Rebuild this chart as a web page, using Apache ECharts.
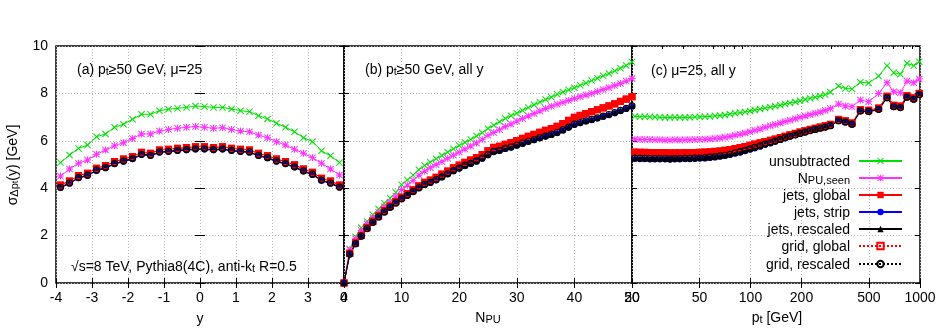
<!DOCTYPE html>
<html>
<head>
<meta charset="utf-8">
<script src="https://cdn.jsdelivr.net/npm/echarts@6/dist/echarts.min.js"></script>
<style>
  html, body { margin: 0; padding: 0; background: #fff; }
  #chart { width: 939px; height: 329px; }
</style>
</head>
<body>
<div id="chart"></div>
<script>
// ------------------------------------------------------------
// Data
// ------------------------------------------------------------

var seriesNames = ["unsubtracted", "NPU,seen", "jets, global", "jets, strip", "jets, rescaled", "grid, global", "grid, rescaled"];

// (a) sigma vs rapidity
var rapidity = [-3.875, -3.625, -3.375, -3.125, -2.875, -2.625, -2.375, -2.125, -1.875, -1.625, -1.375, -1.125, -0.875, -0.625, -0.375, -0.125,
  0.125, 0.375, 0.625, 0.875, 1.125, 1.375, 1.625, 1.875, 2.125, 2.375, 2.625, 2.875, 3.125, 3.375, 3.625, 3.875];
var rapUnsub = [5.08, 5.40, 5.68, 5.82, 6.17, 6.29, 6.57, 6.70, 6.91, 7.12, 7.12, 7.27, 7.33, 7.37, 7.41, 7.47,
  7.44, 7.41, 7.41, 7.34, 7.27, 7.23, 7.06, 6.92, 6.74, 6.57, 6.38, 6.13, 5.96, 5.58, 5.37, 5.08];
var rapNpu = [4.51, 4.81, 5.05, 5.19, 5.43, 5.61, 5.79, 5.92, 6.10, 6.29, 6.29, 6.41, 6.48, 6.53, 6.57, 6.60,
  6.57, 6.53, 6.55, 6.48, 6.41, 6.38, 6.24, 6.13, 5.96, 5.82, 5.64, 5.47, 5.29, 5.05, 4.81, 4.56];
var rapGlobal = [4.13, 4.30, 4.53, 4.63, 4.84, 4.95, 5.12, 5.23, 5.33, 5.51, 5.47, 5.61, 5.64, 5.68, 5.71, 5.75,
  5.75, 5.71, 5.75, 5.68, 5.64, 5.61, 5.47, 5.37, 5.23, 5.12, 4.98, 4.81, 4.67, 4.42, 4.30, 4.13];
var rapStrip = [4.01, 4.19, 4.42, 4.52, 4.73, 4.84, 5.01, 5.12, 5.22, 5.40, 5.36, 5.50, 5.53, 5.57, 5.60, 5.63,
  5.63, 5.60, 5.63, 5.57, 5.53, 5.50, 5.36, 5.26, 5.12, 5.01, 4.87, 4.70, 4.56, 4.31, 4.19, 4.02];
var rapRescaled = [4.04, 4.22, 4.45, 4.55, 4.76, 4.87, 5.04, 5.15, 5.25, 5.43, 5.39, 5.53, 5.56, 5.60, 5.63, 5.66,
  5.66, 5.63, 5.66, 5.60, 5.56, 5.53, 5.39, 5.29, 5.15, 5.04, 4.90, 4.73, 4.59, 4.34, 4.22, 4.05];

// (b) sigma vs number of pileup vertices
var npu = [0, 1, 2, 3, 4, 5, 6, 7, 8, 9, 10, 11, 12, 13, 14, 15, 16, 17, 18, 19, 20, 21, 22, 23, 24, 25,
  26, 27, 28, 29, 30, 31, 32, 33, 34, 35, 36, 37, 38, 39, 40, 41, 42, 43, 44, 45, 46, 47, 48, 49, 50];
var npuUnsub = [0, 1.43, 1.95, 2.33, 2.60, 2.88, 3.12, 3.37, 3.58, 3.82, 4.15, 4.35, 4.55, 4.78, 4.96, 5.10, 5.24, 5.38, 5.52, 5.66, 5.80,
  5.93, 6.06, 6.20, 6.34, 6.52, 6.66, 6.80, 6.94, 7.06, 7.16, 7.28, 7.40, 7.52, 7.63, 7.74, 7.84, 7.96, 8.06, 8.15, 8.24,
  8.34, 8.44, 8.54, 8.64, 8.74, 8.84, 8.95, 9.06, 9.18, 9.32];
var npuNpu = [0, 1.40, 1.87, 2.22, 2.50, 2.76, 2.99, 3.22, 3.42, 3.66, 3.95, 4.13, 4.33, 4.55, 4.72, 4.86, 4.99, 5.12, 5.26, 5.39, 5.52,
  5.65, 5.78, 5.91, 6.05, 6.23, 6.35, 6.47, 6.60, 6.71, 6.83, 6.94, 7.05, 7.15, 7.26, 7.36, 7.46, 7.54, 7.62, 7.70, 7.78,
  7.86, 7.93, 8.00, 8.08, 8.16, 8.24, 8.33, 8.42, 8.52, 8.63];
var npuGlobal = [0, 1.25, 1.69, 2.01, 2.34, 2.60, 2.83, 3.05, 3.25, 3.44, 3.62, 3.77, 3.93, 4.10, 4.25, 4.34, 4.46, 4.59, 4.72, 4.86, 4.97,
  5.09, 5.19, 5.29, 5.42, 5.58, 5.72, 5.77, 5.85, 5.92, 6.01, 6.10, 6.19, 6.27, 6.36, 6.44, 6.52, 6.61, 6.73, 6.86, 6.99,
  7.07, 7.15, 7.23, 7.31, 7.39, 7.47, 7.56, 7.66, 7.76, 7.86];
var npuStrip = [0, 1.19, 1.63, 1.95, 2.27, 2.53, 2.76, 2.97, 3.17, 3.35, 3.53, 3.67, 3.83, 3.99, 4.13, 4.22, 4.33, 4.45, 4.58, 4.71, 4.82,
  4.93, 5.02, 5.12, 5.24, 5.39, 5.52, 5.57, 5.65, 5.71, 5.79, 5.87, 5.95, 6.02, 6.10, 6.17, 6.24, 6.32, 6.43, 6.55, 6.67,
  6.74, 6.81, 6.87, 6.94, 7.01, 7.08, 7.16, 7.25, 7.34, 7.44];
var npuRescaled = [0, 1.22, 1.66, 1.98, 2.30, 2.56, 2.79, 3.00, 3.20, 3.38, 3.56, 3.70, 3.86, 4.02, 4.16, 4.25, 4.36, 4.48, 4.61, 4.74, 4.85,
  4.96, 5.05, 5.15, 5.27, 5.42, 5.55, 5.60, 5.68, 5.74, 5.82, 5.90, 5.98, 6.05, 6.13, 6.20, 6.27, 6.35, 6.46, 6.58, 6.70,
  6.77, 6.84, 6.90, 6.97, 7.04, 7.11, 7.19, 7.28, 7.37, 7.47];

// (c) sigma vs jet pt [GeV]
var jetPt = [20.8, 22.3, 23.8, 25.5, 27.3, 29.2, 31.3, 33.5, 35.8, 38.3, 41.1, 43.9, 47, 50.3, 53.9, 57.7, 61.7, 66.1, 70.7, 75.7,
  81.1, 86.8, 92.9, 99.4, 106, 114, 122, 131, 140, 150, 160, 171, 184, 196, 210, 225, 241, 258, 276, 296,
  331, 363, 397, 445, 498, 570, 639, 700, 766, 838, 918, 990];
var ptUnsub = [7.03, 7.02, 7.02, 7.01, 7.00, 6.99, 6.98, 6.98, 6.99, 6.98, 6.98, 6.99, 7.00, 7.01, 7.02, 7.03, 7.05, 7.07, 7.09, 7.12,
  7.16, 7.19, 7.22, 7.26, 7.30, 7.34, 7.38, 7.42, 7.46, 7.50, 7.55, 7.60, 7.64, 7.69, 7.74, 7.79, 7.84, 7.89, 7.95, 8.06,
  8.31, 8.21, 8.19, 8.47, 8.44, 8.73, 9.17, 8.87, 8.81, 9.27, 9.17, 9.34];
var ptNpu = [6.07, 6.06, 6.05, 6.05, 6.04, 6.04, 6.03, 6.03, 6.04, 6.03, 6.04, 6.04, 6.05, 6.06, 6.07, 6.08, 6.10, 6.12, 6.15, 6.18,
  6.24, 6.28, 6.33, 6.38, 6.44, 6.50, 6.57, 6.63, 6.69, 6.75, 6.81, 6.87, 6.93, 6.99, 7.05, 7.10, 7.16, 7.22, 7.28, 7.36,
  7.55, 7.47, 7.44, 7.72, 7.65, 8.00, 8.45, 8.07, 8.03, 8.52, 8.45, 8.61];
var ptGlobal = [5.52, 5.51, 5.51, 5.50, 5.50, 5.50, 5.50, 5.49, 5.49, 5.49, 5.50, 5.50, 5.50, 5.51, 5.52, 5.53, 5.55, 5.57, 5.60, 5.63,
  5.67, 5.71, 5.76, 5.81, 5.86, 5.91, 5.97, 6.02, 6.07, 6.13, 6.19, 6.25, 6.31, 6.37, 6.42, 6.48, 6.53, 6.58, 6.63, 6.69,
  6.90, 6.84, 6.75, 7.31, 7.29, 7.38, 7.88, 7.50, 7.46, 7.90, 7.81, 8.00];
var ptStrip = [5.23, 5.22, 5.22, 5.21, 5.21, 5.21, 5.21, 5.20, 5.21, 5.21, 5.22, 5.22, 5.23, 5.24, 5.25, 5.27, 5.30, 5.33, 5.36, 5.40,
  5.45, 5.50, 5.56, 5.62, 5.68, 5.75, 5.82, 5.89, 5.96, 6.03, 6.10, 6.17, 6.23, 6.29, 6.35, 6.41, 6.46, 6.51, 6.56, 6.62,
  6.83, 6.77, 6.68, 7.24, 7.22, 7.31, 7.80, 7.42, 7.38, 7.82, 7.73, 7.93];
var ptRescaled = [5.27, 5.26, 5.26, 5.25, 5.25, 5.25, 5.25, 5.24, 5.25, 5.25, 5.26, 5.26, 5.27, 5.28, 5.29, 5.31, 5.33, 5.36, 5.39, 5.43,
  5.49, 5.54, 5.60, 5.66, 5.72, 5.79, 5.86, 5.92, 5.99, 6.06, 6.13, 6.19, 6.25, 6.31, 6.37, 6.43, 6.48, 6.53, 6.58, 6.64,
  6.85, 6.79, 6.70, 7.26, 7.24, 7.33, 7.82, 7.44, 7.40, 7.84, 7.75, 7.95];

// tick labels
var ptMajorTicks = [20, 50, 100, 200, 500, 1000];
var ptMinorTicks = [30, 40, 60, 70, 80, 90, 300, 400, 600, 700, 800, 900];

// ------------------------------------------------------------
// Chart
// ------------------------------------------------------------

var chart = echarts.init(document.getElementById("chart"));
var FONT = "'Liberation Sans', Arial, Helvetica, sans-serif";

// marker shapes (gnuplot-like)
var crossPath = "path://M0,1L1,0L5,4L9,0L10,1L6,5L10,9L9,10L5,6L1,10L0,9L4,5Z";
var starPath = "path://M0,1L1,0L5,4L9,0L10,1L6,5L10,9L9,10L5,6L1,10L0,9L4,5Z" +
  "M4.3,0L5.7,0L5.7,4.3L10,4.3L10,5.7L5.7,5.7L5.7,10L4.3,10L4.3,5.7L0,5.7L0,4.3L4.3,4.3Z";

// open markers get a see-through fill, like gnuplot
var styles = [
  { color: "#00e000", symbol: crossPath, size: 7, type: "solid", open: false },
  { color: "#ff33ff", symbol: starPath, size: 7, type: "solid", open: false },
  { color: "#ff0000", symbol: "rect", size: 7, type: "solid", open: false },
  { color: "#0000ff", symbol: "circle", size: 6, type: "solid", open: false },
  { color: "#000000", symbol: "triangle", size: 5, type: "solid", open: false },
  { color: "#ff0000", symbol: "rect", size: 6, type: [2, 2], open: true },
  { color: "#000000", symbol: "circle", size: 6, type: [2, 2], open: true }
];

var panels = [
  { x: rapidity, sets: [rapUnsub, rapNpu, rapGlobal, rapStrip, rapRescaled, rapGlobal, rapRescaled] },
  { x: npu, sets: [npuUnsub, npuNpu, npuGlobal, npuStrip, npuRescaled, npuGlobal, npuRescaled] },
  { x: jetPt, sets: [ptUnsub, ptNpu, ptGlobal, ptStrip, ptRescaled, ptGlobal, ptRescaled] }
];

var gridLeft = [56, 344, 632];
var grids = gridLeft.map(function (l) {
  return { left: l, top: 46, width: 288, height: 237, show: true, borderColor: "#000", borderWidth: 1.5 };
});

var splitDotted = { show: true, lineStyle: { color: "#b4b4b4", type: [1, 2], width: 1 } };
var tickLabel = { color: "#000", fontSize: 14, fontFamily: FONT, margin: 8 };

function mirrorX(base) {
  return Object.assign({}, base, {
    position: "top",
    axisLabel: { show: false },
    splitLine: { show: false }
  });
}

var xAxisA = {
  gridIndex: 0, type: "value", min: -4, max: 4, interval: 1,
  axisLine: { show: false }, axisTick: { inside: true, length: 5, lineStyle: { color: "#000" } },
  axisLabel: Object.assign({ showMinLabel: true, showMaxLabel: true }, tickLabel),
  splitLine: splitDotted
};
var xAxisB = {
  gridIndex: 1, type: "value", min: 0, max: 50, interval: 10,
  axisLine: { show: false }, axisTick: { inside: true, length: 5, lineStyle: { color: "#000" } },
  axisLabel: Object.assign({ showMinLabel: true, showMaxLabel: true }, tickLabel),
  splitLine: splitDotted
};
var xAxisC = {
  gridIndex: 2, type: "log", logBase: 10, min: 20, max: 1000,
  axisLine: { show: false },
  axisTick: { inside: true, length: 5, customValues: ptMajorTicks, lineStyle: { color: "#000" } },
  axisLabel: Object.assign({
    customValues: ptMajorTicks,
    formatter: function (v) { return String(Math.round(v)); }
  }, tickLabel),
  splitLine: splitDotted
};
var xAxisCMinor = {
  gridIndex: 2, type: "log", logBase: 10, min: 20, max: 1000,
  axisLine: { show: false },
  axisTick: { inside: true, length: 3, customValues: ptMinorTicks, lineStyle: { color: "#000" } },
  axisLabel: { show: false }, splitLine: { show: false }
};

var xAxes = [xAxisA, xAxisB, xAxisC, mirrorX(xAxisA), mirrorX(xAxisB), mirrorX(xAxisC),
  xAxisCMinor, mirrorX(xAxisCMinor)];

var yAxes = [];
[0, 1, 2].forEach(function (g) {
  yAxes.push({
    gridIndex: g, type: "value", min: 0, max: 10, interval: 2, position: "left",
    axisLine: { show: false },
    axisTick: { inside: true, length: 5, lineStyle: { color: "#000" } },
    axisLabel: Object.assign({ show: g === 0 }, tickLabel),
    splitLine: splitDotted
  });
  yAxes.push({
    gridIndex: g, type: "value", min: 0, max: 10, interval: 2, position: "right",
    axisLine: { show: false },
    axisTick: { inside: true, length: 5, lineStyle: { color: "#000" } },
    axisLabel: { show: false }, splitLine: { show: false }
  });
});

var series = [];
panels.forEach(function (p, g) {
  p.sets.forEach(function (vals, k) {
    var st = styles[k];
    series.push({
      name: seriesNames[k],
      type: "line",
      xAxisIndex: g,
      yAxisIndex: g * 2,
      data: p.x.map(function (x, i) { return [x, vals[i]]; }),
      symbol: st.symbol,
      symbolSize: st.size,
      showAllSymbol: true,
      color: st.color,
      lineStyle: { color: st.color, width: 1, type: st.type },
      itemStyle: st.open
        ? { color: "rgba(255,255,255,0)", borderColor: st.color, borderWidth: 1.2 }
        : { color: st.color, borderWidth: 0 },
      emphasis: { disabled: true },
      animation: false
    });
  });
});

// one legend per entry so that the icons line up at the right
var legendCenters = [163, 180, 197, 214, 231, 248, 266];
var rich = {
  n: { fontSize: 14, fontFamily: FONT, color: "#000", lineHeight: 16, verticalAlign: "bottom" },
  s: { fontSize: 11, fontFamily: FONT, color: "#000", lineHeight: 4, verticalAlign: "bottom" }
};
var legends = seriesNames.map(function (nm, k) {
  return {
    data: [nm],
    right: 36,
    top: legendCenters[k] - 8,
    orient: "vertical",
    align: "right",
    itemWidth: 43,
    itemHeight: 8,
    padding: 0,
    selectedMode: false,
    formatter: function (name) {
      if (name === "NPU,seen") return "{n|N}{s|PU,seen}";
      return "{n|" + name + "}";
    },
    textStyle: { fontSize: 14, fontFamily: FONT, color: "#000", padding: [0, 4, 0, 0], rich: rich }
  };
});

function label(x, y, text, extra) {
  return {
    type: "text", x: x, y: y, z: 100,
    style: Object.assign({
      text: text, rich: rich, fill: "#000",
      font: "14px " + FONT, textVerticalAlign: "middle"
    }, extra || {})
  };
}

var graphics = [
  label(77, 69, "{n|(a) p}{s|t}{n|≥50 GeV, μ=25}"),
  label(71, 266, "{n|√s=8 TeV, Pythia8(4C), anti-k}{s|t}{n| R=0.5}"),
  label(365, 69, "{n|(b) p}{s|t}{n|≥50 GeV, all y}"),
  label(651, 70, "{n|(c) μ=25, all y}"),
  label(200, 318, "{n|y}", { textAlign: "center" }),
  label(488, 317, "{n|N}{s|PU}", { textAlign: "center" }),
  label(777, 317, "{n|p}{s|t}{n| [GeV]}", { textAlign: "center" }),
  {
    type: "text", x: 12, y: 165, rotation: Math.PI / 2, z: 100,
    style: {
      text: "{n|σ}{s|Δp}{ss|t}{n|(y) [GeV]}",
      rich: {
        n: rich.n, s: rich.s,
        ss: { fontSize: 9, fontFamily: FONT, color: "#000", lineHeight: 0, verticalAlign: "bottom" }
      },
      textAlign: "center", textVerticalAlign: "middle"
    }
  }
];

chart.setOption({
  animation: false,
  backgroundColor: "#fff",
  textStyle: { fontFamily: FONT },
  grid: grids,
  xAxis: xAxes,
  yAxis: yAxes,
  legend: legends,
  graphic: graphics,
  series: series
});
</script>
</body>
</html>
